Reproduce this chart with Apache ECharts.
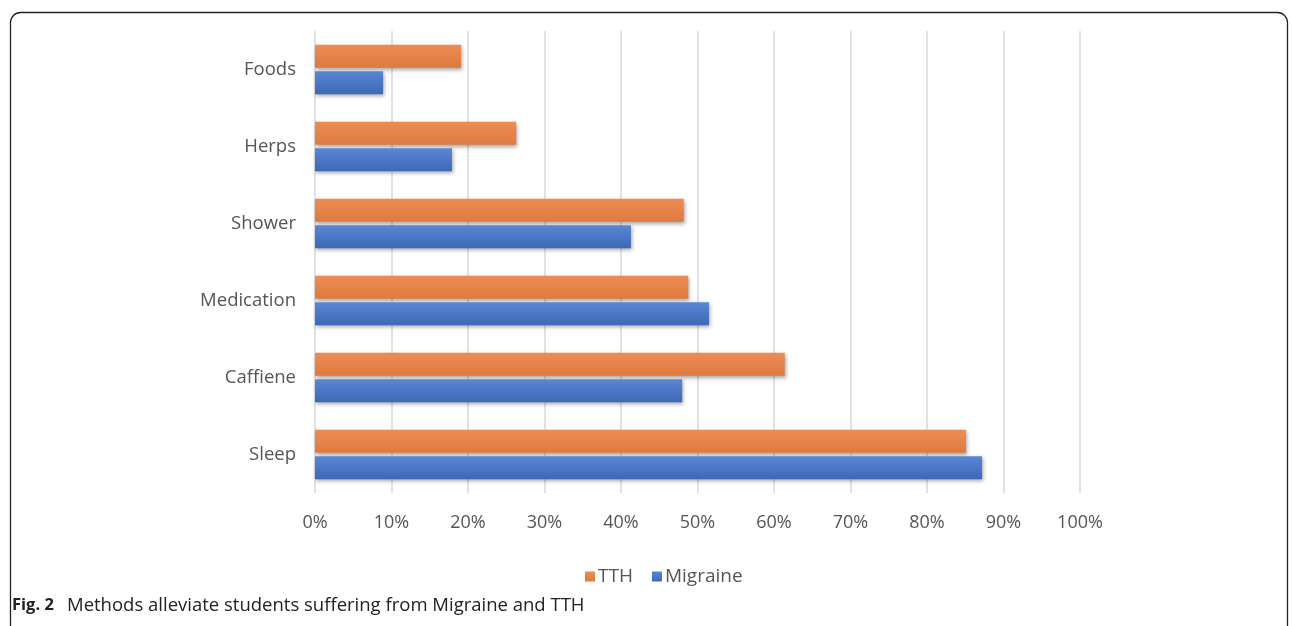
<!DOCTYPE html>
<html>
<head>
<meta charset="utf-8">
<script src="https://cdn.jsdelivr.net/npm/echarts@6/dist/echarts.min.js"></script>
<style>
  html, body { margin: 0; padding: 0; background: #fff; }
  #chart { width: 1292px; height: 626px; }
</style>
</head>
<body>
<div id="chart"></div>
<script>
// categories from bottom to top (category axis runs upward)
const categories = ['Sleep', 'Caffiene', 'Medication', 'Shower', 'Herps', 'Foods'];
const tthData = [85.1, 61.4, 48.8, 48.2, 26.3, 19.1];
const migraineData = [87.2, 48.0, 51.5, 41.3, 17.9, 8.9];
const xTicks = [0, 10, 20, 30, 40, 50, 60, 70, 80, 90, 100];

const chart = echarts.init(document.getElementById('chart'));

function barGrad(top, bottom) {
  return new echarts.graphic.LinearGradient(0, 0, 0, 1, [
    { offset: 0, color: top },
    { offset: 1, color: bottom }
  ]);
}

const option = {
  animation: false,
  textStyle: { fontFamily: 'Open Sans' },
  grid: { left: 315, right: 212, top: 31, bottom: 133, containLabel: false },
  legend: {
    data: ['TTH', 'Migraine'],
    left: 580,
    top: 562,
    itemWidth: 10,
    itemHeight: 10,
    itemGap: 19,
    icon: 'rect',
    textStyle: { color: '#555', fontSize: 19, fontFamily: 'Open Sans', padding: [0, 0, 0, -2] }
  },
  xAxis: {
    type: 'value',
    min: xTicks[0],
    max: xTicks[xTicks.length - 1],
    interval: 10,
    axisLine: { show: false },
    axisTick: { show: false },
    axisLabel: {
      formatter: '{value}%',
      color: '#555',
      fontSize: 18,
      margin: 21
    },
    splitLine: { lineStyle: { color: '#d9d9d9', width: 1.5 } }
  },
  yAxis: {
    type: 'category',
    data: categories,
    axisLine: { show: false },
    axisTick: { show: false },
    axisLabel: { color: '#555', fontSize: 18.5, margin: 19 }
  },
  series: [
    {
      name: 'TTH',
      type: 'bar',
      data: tthData,
      barWidth: 23,
      barGap: '15%',
      itemStyle: {
        color: barGrad('#ec8c55', '#e07a3e'),
        shadowColor: 'rgba(0,0,0,0.35)',
        shadowBlur: 4,
        shadowOffsetX: 1,
        shadowOffsetY: 2
      }
    },
    {
      name: 'Migraine',
      type: 'bar',
      data: migraineData,
      barWidth: 23,
      barGap: '15%',
      itemStyle: {
        color: barGrad('#5a86d4', '#3d68b8'),
        shadowColor: 'rgba(0,0,0,0.35)',
        shadowBlur: 4,
        shadowOffsetX: 1,
        shadowOffsetY: 2
      }
    }
  ],
  graphic: [
    {
      type: 'rect',
      shape: { x: 10.5, y: 12.5, width: 1277, height: 700, r: 10 },
      style: { fill: 'none', stroke: '#222', lineWidth: 1.3 },
      silent: true
    },
    {
      type: 'text',
      left: 12,
      top: 597,
      style: {
        text: 'Fig. 2',
        font: 'bold 16.5px "Open Sans"',
        fill: '#222'
      }
    },
    {
      type: 'text',
      left: 67,
      top: 596,
      style: {
        text: 'Methods alleviate students suffering from Migraine and TTH',
        font: '18.5px "Open Sans"',
        fill: '#222'
      }
    }
  ]
};

chart.setOption(option);
</script>
</body>
</html>
